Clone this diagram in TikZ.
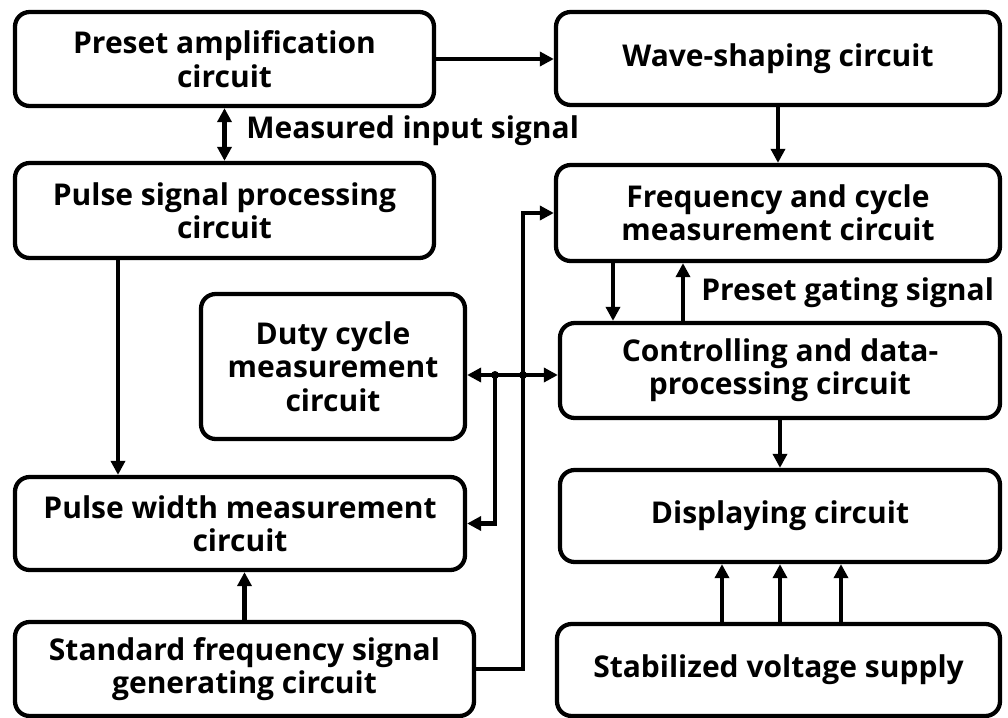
\documentclass[tikz,border=0pt]{standalone}
\usepackage{fontspec}
\setmainfont{Open Sans}
\usetikzlibrary{arrows.meta,calc}
\begin{document}
\begin{tikzpicture}[x=0.75pt,y=-0.75pt,
  blk/.style={draw, line width=3.2pt, rounded corners=11pt, align=center,
    inner sep=0pt, font=\bfseries\fontsize{22.5}{25}\selectfont},
  arr/.style={line width=3.3pt, -{Triangle[length=10.5pt,width=10.5pt]}},
  dbl/.style={line width=3.3pt, {Triangle[length=10.5pt,width=10.5pt]}-{Triangle[length=10.5pt,width=10.5pt]}},
  lbl/.style={anchor=west, inner sep=0pt, font=\bfseries\fontsize{22.5}{25}\selectfont}]
\useasboundingbox (0,0) rectangle (1008,718);
\fill[white] (0,0) rectangle (1008,718);
\node[blk, minimum width=314.25pt, minimum height=70.5pt] (preset) at (224.5,59) {Preset amplification\\circuit};
\node[blk, minimum width=314.25pt, minimum height=71.25pt] (pulse) at (224.5,210.5) {Pulse signal processing\\circuit};
\node[blk, minimum width=333pt, minimum height=69.75pt] (wave) at (778,58.5) {Wave-shaping circuit};
\node[blk, minimum width=333pt, minimum height=72pt] (freq) at (778,213) {Frequency and cycle\\measurement circuit};
\node[blk, minimum width=198pt, minimum height=108.75pt] (duty) at (333,366.5) {Duty cycle\\measurement\\circuit};
\node[blk, minimum width=330pt, minimum height=71.25pt] (ctrl) at (780,370.5) {Controlling and data-\\processing circuit};
\node[blk, minimum width=337.5pt, minimum height=69.75pt] (pw) at (240,523.5) {Pulse width measurement\\circuit};
\node[blk, minimum width=330pt, minimum height=69pt] (disp) at (780,516) {Displaying circuit};
\node[blk, minimum width=344.25pt, minimum height=70.5pt] (std) at (244.5,669) {Standard frequency signal\\generating circuit};
\node[blk, minimum width=332.25pt, minimum height=69pt] (stab) at (778.5,670) {Stabilized voltage supply};
% labels
\node[lbl] (lmeas) at (246,131) {Measured input signal};
\node[lbl] (lgate) at (701,293) {Preset gating signal};
% coordinates
\coordinate (cpw) at (118,0);
\coordinate (bus) at (523,213);
\coordinate (j1) at (495,375);
\coordinate (j2) at (523,375);
\coordinate (fd) at (613,0);
\coordinate (fu) at (683,0);
\coordinate (s1) at (722,0);
\coordinate (s2) at (780,0);
\coordinate (s3) at (841,0);
% connectors
\draw[arr] (preset.east) -- (preset.east -| wave.west);
\draw[dbl] (preset.south) -- (pulse.north);
\draw[arr] (wave.south) -- (freq.north);
\draw[arr] (cpw |- pulse.south) -- (cpw |- pw.north);
\draw[arr] (std.north) -- (std.north |- pw.south);
\draw[arr] (std.east) -| (bus) -- (freq.west);
\draw[dbl] (duty.east |- j1) -- (ctrl.west |- j1);
\draw[arr] (j1) |- (pw.east);
\fill (j1) circle (3pt);
\fill (j2) circle (3pt);
\draw[arr] (fd |- freq.south) -- (fd |- ctrl.north);
\draw[arr] (fu |- ctrl.north) -- (fu |- freq.south);
\draw[arr] (ctrl.south) -- (disp.north);
\draw[arr] (s1 |- stab.north) -- (s1 |- disp.south);
\draw[arr] (s2 |- stab.north) -- (s2 |- disp.south);
\draw[arr] (s3 |- stab.north) -- (s3 |- disp.south);
\end{tikzpicture}
\end{document}
